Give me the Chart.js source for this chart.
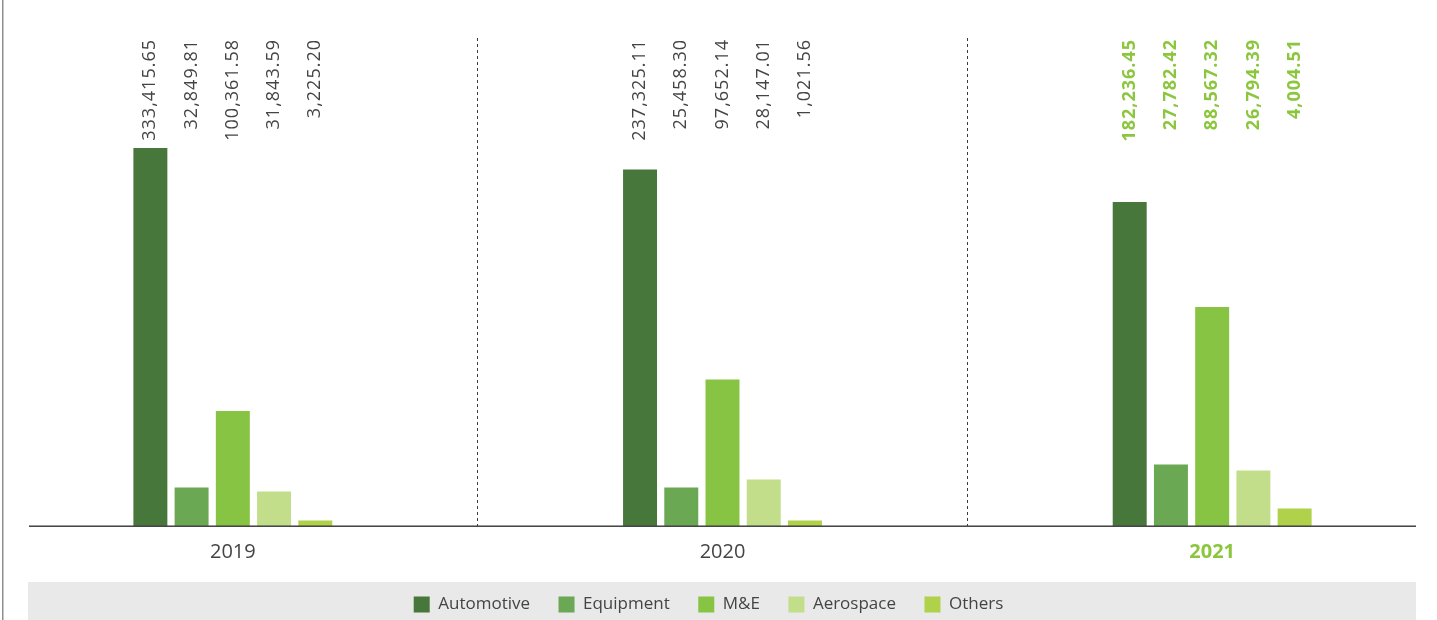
<!DOCTYPE html>
<html>
<head>
<meta charset="utf-8">
<script src="https://cdn.jsdelivr.net/npm/chart.js@4.4.1/dist/chart.umd.min.js"></script>
<style>
html,body{margin:0;padding:0;background:#fff;overflow:hidden}
#wrap{width:1437px;height:620px;position:relative}
</style>
</head>
<body>
<div id="wrap"><canvas id="c" width="1437" height="620"></canvas></div>
<script>
// ---- data ----
const years = ['2019', '2020', '2021'];
const seriesNames = ['Automotive', 'Equipment', 'M&E', 'Aerospace', 'Others'];
// values printed above the bars
const automotiveValues = [333415.65, 237325.11, 182236.45];
const equipmentValues  = [32849.81, 25458.30, 27782.42];
const mAndEValues      = [100361.58, 97652.14, 88567.32];
const aerospaceValues  = [31843.59, 28147.01, 26794.39];
const othersValues     = [3225.20, 1021.56, 4004.51];
const automotiveBars = [378, 356.5, 324];
const equipmentBars  = [38.5, 38.5, 61.5];
const mAndEBars      = [115, 146.5, 219];
const aerospaceBars  = [34.5, 46.5, 55.5];
const othersBars     = [5.5, 5.5, 17.5];
const yAxisMax = 488;
const highlightYear = '2021';

// ---- styles ----
const FONT = "'Open Sans', 'Noto Sans', sans-serif";
const colors = ['#48773b', '#6ba854', '#88c443', '#c3de8a', '#b0d24b'];
const TEXT = '#444444';
const GREEN = '#8cc63f';

const valueSets = [automotiveValues, equipmentValues, mAndEValues, aerospaceValues, othersValues];
const barSets = [automotiveBars, equipmentBars, mAndEBars, aerospaceBars, othersBars];
const fmt = v => v.toLocaleString('en-US', {minimumFractionDigits: 2, maximumFractionDigits: 2});

const datasets = seriesNames.map((name, i) => ({
  label: name,
  data: barSets[i],
  backgroundColor: colors[i],
  borderWidth: 0,
  categoryPercentage: 0.421,
  barPercentage: 0.824
}));

const decor = {
  id: 'decor',
  afterLayout(chart) {
    const s = chart.scales.x;
    s.left = -12; s.right = 1457; s.width = s.right - s.left;
    s.configure();
    if (chart.legend) { chart.legend.top += 3; chart.legend.bottom += 3; }
  },
  beforeDraw(chart) {
    const ctx = chart.ctx;
    ctx.save();
    ctx.fillStyle = '#8f8f8f';
    ctx.fillRect(2, 0, 1.5, chart.height);
    ctx.fillStyle = '#e9e9e9';
    ctx.fillRect(28, 582, 1388, chart.height - 582);
    ctx.restore();
  },
  afterDatasetsDraw(chart) {
    const ctx = chart.ctx;
    const area = chart.chartArea;
    ctx.save();
    ctx.fillStyle = 'rgba(70,70,70,0.55)';
    ctx.fillRect(29, area.bottom - 1, 1387, 1);
    ctx.fillStyle = 'rgba(50,50,50,0.9)';
    ctx.fillRect(29, area.bottom, 1387, 1);
    chart.data.datasets.forEach((ds, i) => {
      const meta = chart.getDatasetMeta(i);
      meta.data.forEach((bar, j) => {
        const hi = years[j] === highlightYear;
        ctx.save();
        ctx.translate(bar.x, area.top + 1);
        ctx.rotate(-Math.PI / 2);
        ctx.font = (hi ? 'bold ' : '') + '18px ' + FONT;
        ctx.letterSpacing = '1px';
        ctx.fillStyle = hi ? GREEN : TEXT;
        ctx.textAlign = 'right';
        ctx.textBaseline = 'middle';
        ctx.fillText(fmt(valueSets[i][j]), 0, 0);
        ctx.restore();
      });
    });
    ctx.restore();
  }
};

new Chart(document.getElementById('c'), {
  type: 'bar',
  data: { labels: years, datasets },
  options: {
    responsive: false,
    animation: false,
    devicePixelRatio: 1,
    layout: { padding: { top: 38, left: 0, right: 20, bottom: 0 } },
    plugins: {
      legend: {
        position: 'bottom',
        labels: { boxWidth: 16, boxHeight: 16, padding: 28.5, color: TEXT, font: { family: FONT, size: 17 } }
      },
      tooltip: { enabled: false }
    },
    scales: {
      x: {
        grid: { display: true, drawTicks: false, color: '#3a3a3a', lineWidth: 1, offset: true },
        border: { display: false, dash: [3, 3] },
        ticks: {
          padding: 14,
          color: c => years[c.index] === highlightYear ? GREEN : TEXT,
          font: c => ({ family: FONT, size: 20, weight: years[c.index] === highlightYear ? 'bold' : 'normal' })
        },
        afterFit(scale) { scale.height = 38.5; }
      },
      y: { display: false, min: 0, max: yAxisMax }
    }
  },
  plugins: [decor]
});
</script>
</body>
</html>
